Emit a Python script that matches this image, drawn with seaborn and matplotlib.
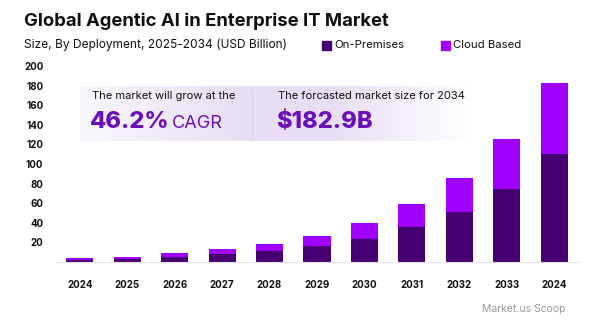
import numpy as np
import pandas as pd
import matplotlib
matplotlib.use("Agg")
import matplotlib.pyplot as plt
import seaborn as sns

# Market size by deployment (USD Billion)
year_labels = ["2024", "2025", "2026", "2027", "2028", "2029",
               "2030", "2031", "2032", "2033", "2024"]
on_premises = [2.3, 3.4, 5.5, 8.0, 11.2, 16.2, 23.8, 35.3, 51.2, 75.0, 109.7]
cloud_based = [1.5, 2.2, 3.7, 5.3, 7.6, 10.8, 15.9, 23.5, 34.2, 50.1, 73.2]
y_ticks = [20, 40, 60, 80, 100, 120, 140, 160, 180, 200]

cagr_text = "46.2%"
forecast_text = "$182.9B"

C_ONPREM = "#46006f"
C_CLOUD = "#a000ff"
C_ACCENT = "#6b10b8"
FONT = ["Inter", "DejaVu Sans"]

sns.set_theme(style="white")
plt.rcParams["font.family"] = FONT

df = pd.DataFrame({
    "pos": np.arange(len(year_labels)),
    "On-Premises": on_premises,
    "Cloud Based": cloud_based,
})
df["Total"] = df["On-Premises"] + df["Cloud Based"]

fig = plt.figure(figsize=(6.0, 3.26), dpi=100)
ax = fig.add_axes([56 / 600, 1 - 262 / 326, 522 / 600, 196 / 326])

# stacked bars: full height in the cloud colour, on-premises share drawn over it
sns.barplot(data=df, x="pos", y="Total", color=C_CLOUD, width=0.57,
            saturation=1, ax=ax, order=list(df["pos"]), linewidth=0)
sns.barplot(data=df, x="pos", y="On-Premises", color=C_ONPREM, width=0.57,
            saturation=1, ax=ax, order=list(df["pos"]), linewidth=0)

ax.set_ylim(0, 200)
ax.set_xlim(-0.5, len(year_labels) - 0.5)
ax.set_yticks(y_ticks)
ax.set_yticklabels([str(t) for t in y_ticks], fontsize=7, fontweight="bold",
                   color="#111111")
ax.set_xticks(range(len(year_labels)))
ax.set_xticklabels(year_labels, fontsize=7, fontweight="bold", color="#111111")
ax.tick_params(axis="y", length=0, pad=9)
ax.tick_params(axis="x", length=0, pad=13)
ax.set_xlabel("")
ax.set_ylabel("")
for side in ["top", "right", "left"]:
    ax.spines[side].set_visible(False)
ax.spines["bottom"].set_color("#e6e2ec")
ax.spines["bottom"].set_linewidth(0.8)
ax.grid(False)

# Titles
fig.text(24 / 600, 1 - 21 / 326, "Global Agentic AI in Enterprise IT Market",
         fontsize=13.3, fontweight="bold", color="#111111", va="center", ha="left")
fig.text(24 / 600, 1 - 45 / 326, "Size, By Deployment, 2025-2034 (USD Billion)",
         fontsize=8.6, color="#111111", va="center", ha="left")

# Legend
for x0, col, lab in [(322, C_ONPREM, "On-Premises"), (441, C_CLOUD, "Cloud Based")]:
    fig.patches.append(plt.Rectangle((x0 / 600, 1 - 50 / 326), 9 / 600, 9 / 326,
                                     transform=fig.transFigure, color=col))
    fig.text((x0 + 12) / 600, 1 - 45 / 326, lab, fontsize=8.2, color="#111111",
             va="center", ha="left")

# Highlight panel with soft lavender gradient
x_left, x_right = 80, 472
bx = fig.add_axes([x_left / 600, 1 - 141 / 326, (x_right - x_left) / 600, 55 / 326],
                  zorder=3)
w = 500
px = np.linspace(x_left, x_right, w)
alpha = np.interp(px, [x_left, 252, 330, x_right], [0.25, 1.0, 1.0, 0.0])
rgba = np.zeros((1, w, 4))
rgba[..., :3] = np.array([0xe8, 0xde, 0xf5]) / 255
rgba[..., 3] = alpha
bx.imshow(rgba, aspect="auto", extent=[0, 1, 0, 1], interpolation="bilinear")
bx.set_xlim(0, 1)
bx.set_ylim(0, 1)
bx.axis("off")

fig.add_artist(plt.Line2D([252 / 600, 252 / 600], [1 - 140 / 326, 1 - 88 / 326],
                          transform=fig.transFigure, color="#dcd4e6", lw=0.8,
                          zorder=4))

fig.text(92 / 600, 1 - 96 / 326, "The market will grow at the", fontsize=8,
         color="#111111", va="center", ha="left", zorder=5)
fig.text(90 / 600, 1 - 122 / 326, cagr_text, fontsize=17, fontweight="heavy",
         color=C_ACCENT, va="center", ha="left", zorder=5)
fig.text(172 / 600, 1 - 123 / 326, "CAGR", fontsize=13, color=C_ACCENT,
         va="center", ha="left", zorder=5)

fig.text(278 / 600, 1 - 96 / 326, "The forcasted market size for 2034",
         fontsize=8, color="#111111", va="center", ha="left", zorder=5)
fig.text(276 / 600, 1 - 122 / 326, forecast_text, fontsize=17, fontweight="heavy",
         color=C_ACCENT, va="center", ha="left", zorder=5)

# Source
fig.text(566 / 600, 1 - 309 / 326, "Market.us Scoop", fontsize=7.5,
         color="#9a9a9a", va="center", ha="right")

fig.savefig("out.png", dpi=100, facecolor="white")
